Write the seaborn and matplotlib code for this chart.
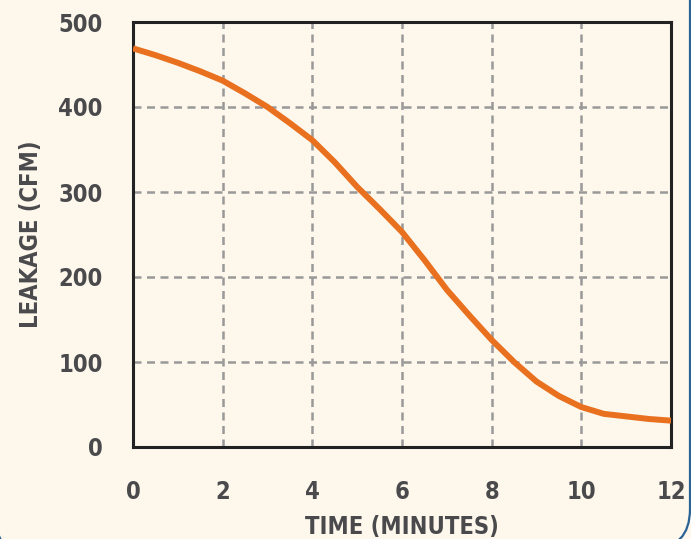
import pandas as pd
import matplotlib.pyplot as plt
import seaborn as sns
from matplotlib.patches import FancyBboxPatch

# --- data ---
time_min = [0, 0.5, 1, 1.5, 2, 2.5, 3, 3.5, 4, 4.5, 5, 5.5, 6,
            6.5, 7, 7.5, 8, 8.5, 9, 9.5, 10, 10.5, 11, 11.5, 12]
leakage_cfm = [469, 461, 452, 442, 431, 416, 400, 381, 361, 335, 306, 280, 253,
               220, 185, 155, 126, 100, 77, 60, 47, 39, 36, 33, 31]
x_ticks = [0, 2, 4, 6, 8, 10, 12]
y_ticks = [0, 100, 200, 300, 400, 500]

df = pd.DataFrame({"time": time_min, "leakage": leakage_cfm})

# --- style ---
sns.set_theme(style="whitegrid")
plt.rcParams["font.family"] = ["DejaVu Sans"]

bg = "#fdf7ec"
txt = "#4a4a4d"
font = dict(family="DejaVu Sans", stretch="condensed", weight="bold")

fig = plt.figure(figsize=(6.91, 5.39), dpi=100, facecolor=bg)
ax = fig.add_axes([133 / 691, 1 - 447 / 539, 538 / 691, 425 / 539])
ax.set_facecolor(bg)

# rounded frame, top and left run off the canvas
frame = FancyBboxPatch((-30, -10), 720, 620, boxstyle="round,pad=0,rounding_size=40",
                       transform=None, facecolor="none", edgecolor="#2a6496",
                       linewidth=1.6, zorder=0)
fig.patches.append(frame)

sns.lineplot(data=df, x="time", y="leakage", ax=ax, color="#e8701e",
             linewidth=4.3, solid_capstyle="butt", solid_joinstyle="round", zorder=3)

ax.set_xlim(0, 12)
ax.set_ylim(0, 500)
ax.set_xticks(x_ticks)
ax.set_yticks(y_ticks)

ax.grid(True, color="#999999", linestyle=(0, (3.2, 2.2)), linewidth=1.8)
for s in ax.spines.values():
    s.set_visible(True)
    s.set_color("#222222")
    s.set_linewidth(2.2)

ax.tick_params(axis="both", direction="out", length=6, width=2.2, color="#222222",
               labelcolor=txt)
ax.tick_params(axis="x", pad=18)
ax.tick_params(axis="y", pad=16)
for lab in ax.get_xticklabels() + ax.get_yticklabels():
    lab.set_fontproperties(font)
    lab.set_fontsize(17)

ax.set_xlabel("TIME (MINUTES)", fontsize=17, color=txt, labelpad=8, **font)
ax.set_ylabel("LEAKAGE (CFM)", fontsize=17, color=txt, labelpad=11, **font)

fig.savefig("out.png", dpi=100, facecolor=bg)
